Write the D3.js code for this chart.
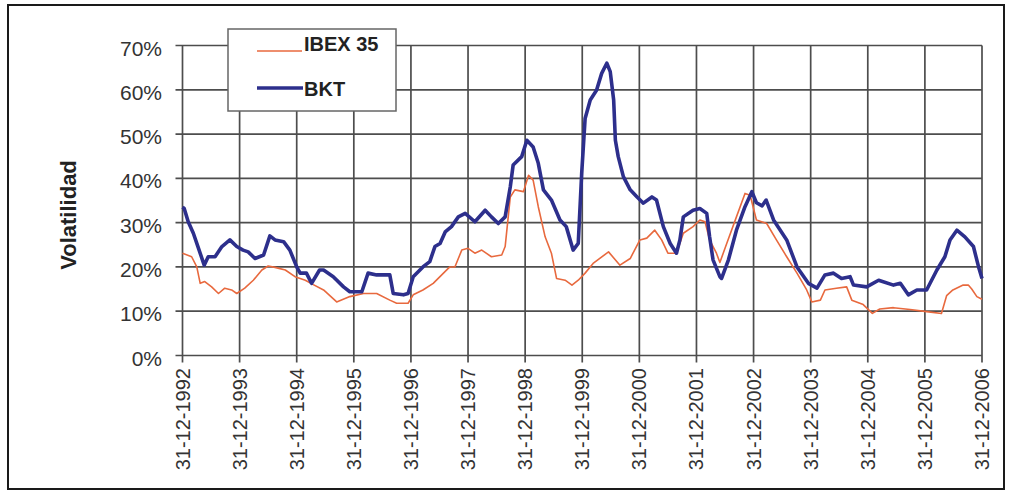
<!DOCTYPE html>
<meta charset="utf-8">
<style>
  body { margin: 0; background: #fff; }
  text { font-family: "Liberation Sans", Arial, sans-serif; }
</style>
<script src="https://d3js.org/d3.v7.min.js"></script>
<body>
<svg id="chart" width="1011" height="491"></svg>
<script>
// years counted from 31-12-1992 (0) to 31-12-2006 (14)
var yearTicks = d3.range(0, 15);
var tickLabels = yearTicks.map(function(i) { return "31-12-" + (1992 + i); });
var yTicks = [0, 10, 20, 30, 40, 50, 60, 70];

// IBEX 35 volatility, [years since 31-12-1992, %]
var ibex = [
  [0.00,23.1],[0.16,22.3],[0.25,20.0],[0.31,16.3],[0.39,16.7],[0.51,15.5],[0.63,14.0],[0.74,15.2],
  [0.86,14.8],[0.95,14.0],[1.09,15.2],[1.24,17.0],[1.39,19.3],[1.50,20.2],[1.62,19.9],[1.80,19.3],
  [1.97,17.8],[2.15,17.0],[2.29,16.0],[2.47,14.8],[2.70,12.1],[2.93,13.3],[3.17,14.0],[3.40,14.0],
  [3.63,12.5],[3.75,11.8],[3.95,11.8],[4.04,13.7],[4.21,14.8],[4.39,16.3],[4.57,18.6],[4.68,20.0],
  [4.77,20.0],[4.89,23.8],[5.00,24.2],[5.12,23.1],[5.24,23.8],[5.41,22.3],[5.59,22.7],[5.65,24.6],
  [5.74,35.8],[5.82,37.4],[5.97,37.0],[6.06,40.7],[6.14,39.6],[6.23,33.6],[6.35,26.8],[6.46,23.1],
  [6.55,17.4],[6.70,17.0],[6.82,15.9],[6.93,17.0],[7.05,18.6],[7.19,20.8],[7.46,23.4],[7.66,20.4],
  [7.84,21.9],[8.01,26.1],[8.13,26.5],[8.27,28.3],[8.39,26.1],[8.50,23.1],[8.65,23.1],[8.77,27.6],
  [8.94,29.1],[9.06,30.6],[9.15,30.2],[9.23,26.1],[9.35,23.1],[9.41,21.0],[9.53,25.3],[9.70,31.3],
  [9.85,36.6],[9.94,36.2],[10.05,30.6],[10.23,29.8],[10.40,26.1],[10.58,22.3],[10.76,18.6],[10.93,14.8],
  [11.02,12.1],[11.17,12.5],[11.25,14.8],[11.45,15.2],[11.63,15.5],[11.72,12.5],[11.92,11.5],[12.08,9.5],
  [12.21,10.5],[12.45,10.8],[12.74,10.4],[13.03,9.9],[13.29,9.5],[13.38,13.5],[13.49,14.8],[13.67,15.9],
  [13.76,15.9],[13.82,15.0],[13.91,13.3],[14.00,12.7]
];

// BKT volatility
var bkt = [
  [0.00,33.5],[0.03,33.2],[0.10,30.2],[0.19,27.6],[0.27,24.6],[0.38,20.4],[0.45,22.3],[0.57,22.3],
  [0.69,24.6],[0.83,26.1],[0.95,24.6],[1.06,23.8],[1.15,23.4],[1.27,21.9],[1.42,22.7],[1.53,27.0],
  [1.62,26.1],[1.77,25.7],[1.88,23.8],[2.00,20.0],[2.06,18.6],[2.17,18.6],[2.26,16.3],[2.40,19.3],
  [2.47,19.3],[2.64,17.8],[2.82,15.5],[2.93,14.4],[3.14,14.4],[3.25,18.6],[3.40,18.2],[3.63,18.2],
  [3.69,14.0],[3.87,13.7],[3.95,14.0],[4.04,17.8],[4.21,20.0],[4.33,21.2],[4.42,24.6],[4.51,25.3],
  [4.60,27.9],[4.71,29.1],[4.83,31.3],[4.95,32.1],[5.12,30.2],[5.30,32.8],[5.41,31.3],[5.53,29.8],
  [5.65,31.3],[5.74,38.1],[5.79,43.0],[5.94,44.9],[6.03,48.6],[6.14,47.1],[6.23,43.4],[6.32,37.4],
  [6.46,35.1],[6.61,30.6],[6.72,29.1],[6.84,23.8],[6.93,25.3],[6.99,41.1],[7.05,53.5],[7.14,57.7],
  [7.25,59.9],[7.34,63.7],[7.43,66.0],[7.49,64.1],[7.55,57.7],[7.58,48.6],[7.63,44.9],[7.72,40.4],
  [7.84,37.4],[7.96,35.8],[8.07,34.4],[8.22,35.8],[8.30,35.1],[8.42,29.1],[8.54,25.3],[8.65,23.1],
  [8.71,26.1],[8.77,31.3],[8.94,32.8],[9.06,33.2],[9.18,32.1],[9.23,26.8],[9.29,21.6],[9.41,17.8],
  [9.44,17.4],[9.56,21.6],[9.70,28.3],[9.85,33.6],[9.97,37.0],[10.05,34.5],[10.15,33.8],[10.22,35.1],
  [10.35,30.6],[10.58,26.1],[10.76,20.0],[10.96,16.3],[11.11,15.2],[11.25,18.2],[11.40,18.6],[11.54,17.4],
  [11.69,17.8],[11.75,15.9],[11.98,15.5],[12.19,17.0],[12.45,15.9],[12.57,16.3],[12.71,13.7],[12.86,14.8],
  [13.03,14.8],[13.21,19.3],[13.35,22.3],[13.44,26.1],[13.56,28.3],[13.70,26.8],[13.85,24.6],[13.94,20.0],
  [14.00,17.4]
];

var svg = d3.select("#chart");
var pLeft = 182.5, pRight = 982, pTop = 45.5, pBottom = 355.5;

var x = d3.scaleLinear().domain([0, 14]).range([pLeft, pRight]);
var y = d3.scaleLinear().domain([0, 70]).range([pBottom, pTop]);

// outer frame
svg.append("rect").attr("x", 8).attr("y", 5).attr("width", 996).attr("height", 484)
  .attr("fill", "none").attr("stroke", "#1a1a1a").attr("stroke-width", 2);

var grid = svg.append("g").attr("stroke", "#4d4d4d").attr("stroke-width", 1.7);
grid.selectAll(".h").data(yTicks).enter().append("line")
  .attr("x1", pLeft - 7).attr("x2", pRight).attr("y1", d => y(d)).attr("y2", d => y(d));
grid.selectAll(".v").data(yearTicks).enter().append("line")
  .attr("y1", pTop).attr("y2", pBottom + 7).attr("x1", d => x(d)).attr("x2", d => x(d));

svg.selectAll(".ylab").data(yTicks).enter().append("text")
  .attr("x", 162).attr("y", d => y(d) + 10)
  .attr("text-anchor", "end").attr("font-size", 21).attr("fill", "#333")
  .text(d => d + "%");

svg.selectAll(".xlab").data(yearTicks).enter().append("text")
  .attr("transform", d => "translate(" + (x(d) + 7) + ",368) rotate(-90)")
  .attr("text-anchor", "end").attr("font-size", 20).attr("fill", "#333")
  .text((d, i) => tickLabels[i]);

svg.append("text")
  .attr("transform", "translate(76,215) rotate(-90)")
  .attr("text-anchor", "middle").attr("font-size", 22).attr("font-weight", "bold").attr("fill", "#222")
  .text("Volatilidad");

var line = d3.line().x(d => x(d[0])).y(d => y(d[1]));

svg.append("path").datum(ibex).attr("d", line)
  .attr("fill", "none").attr("stroke", "#E8693E").attr("stroke-width", 1.6).attr("stroke-linejoin", "round");
svg.append("path").datum(bkt).attr("d", line)
  .attr("fill", "none").attr("stroke", "#2D2F8C").attr("stroke-width", 3.6).attr("stroke-linejoin", "round");

// legend
var lg = svg.append("g");
lg.append("rect").attr("x", 228).attr("y", 29).attr("width", 168).attr("height", 82)
  .attr("fill", "#fff").attr("stroke", "#666").attr("stroke-width", 1.5);
lg.append("line").attr("x1", 257).attr("x2", 302).attr("y1", 51).attr("y2", 51)
  .attr("stroke", "#E8693E").attr("stroke-width", 1.6);
lg.append("line").attr("x1", 257).attr("x2", 303).attr("y1", 88).attr("y2", 88)
  .attr("stroke", "#2D2F8C").attr("stroke-width", 3.6);
lg.append("text").attr("x", 304).attr("y", 51).attr("font-size", 20).attr("font-weight", "bold")
  .attr("fill", "#222").text("IBEX 35");
lg.append("text").attr("x", 304).attr("y", 96).attr("font-size", 20).attr("font-weight", "bold")
  .attr("fill", "#222").text("BKT");
</script>
</body>
